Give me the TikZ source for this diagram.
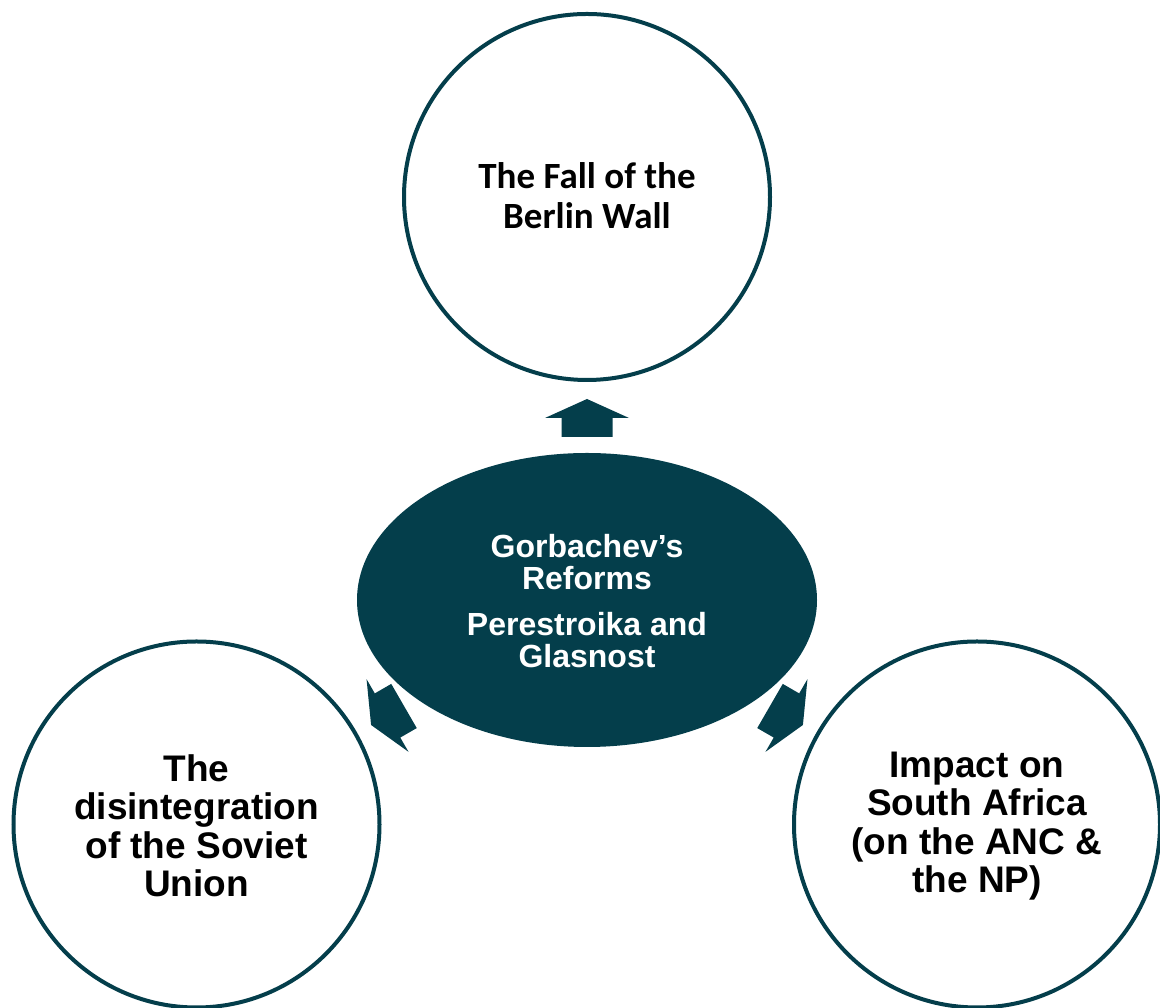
\documentclass[tikz,border=0pt]{standalone}
\usepackage{fontspec}
\usetikzlibrary{shapes.geometric}
\setmainfont{Liberation Sans}
\newfontfamily\calfont{Carlito}
\definecolor{teal}{HTML}{043E4B}
\begin{document}
\begin{tikzpicture}[x=1pt,y=1pt,
  ring/.style={circle,draw=teal,line width=4pt,minimum size=366pt,inner sep=0pt},
  blockarrow/.style={fill=teal,draw=none}]
\useasboundingbox (0,0) rectangle (1160,1008);
\begin{scope}
\clip (0,0) rectangle (1160,1008);
\node[ring] (top) at (587,811) {};
\node[ring] (left) at (196.5,183.5) {};
\node[ring] (right) at (977,183.5) {};
\end{scope}
\node[ellipse,fill=teal,minimum width=460pt,minimum height=294pt,inner sep=0pt] (mid) at (587,408) {};
% text
\node[align=center,font=\calfont\bfseries\fontsize{37}{40}\selectfont] (toptext) at (587,812) {The Fall of the\\Berlin Wall};
\node[align=center,text=white,font=\bfseries\fontsize{32}{32.5}\selectfont] (midtext) at (587,407) {Gorbachev’s\\Reforms\\[13pt]Perestroika and\\Glasnost};
\node[align=center,font=\bfseries\fontsize{37}{38.5}\selectfont] (lefttext) at (196.5,182) {The\\disintegration\\of the Soviet\\Union};
\node[align=center,font=\bfseries\fontsize{37}{38.5}\selectfont] (righttext) at (977,182) {Impact on\\South Africa\\(on the ANC \&\\the NP)};
% arrows
\foreach \px/\py/\ang in {587/571/90, 770/302/-30, 404/302/210}{
  \fill[blockarrow,shift={(\px,\py)},rotate=\ang]
    (0,-25.5) -- (19,-25.5) -- (19,-42) -- (38,0) -- (19,42) -- (19,25.5) -- (0,25.5) -- cycle;
}
\end{tikzpicture}
\end{document}
